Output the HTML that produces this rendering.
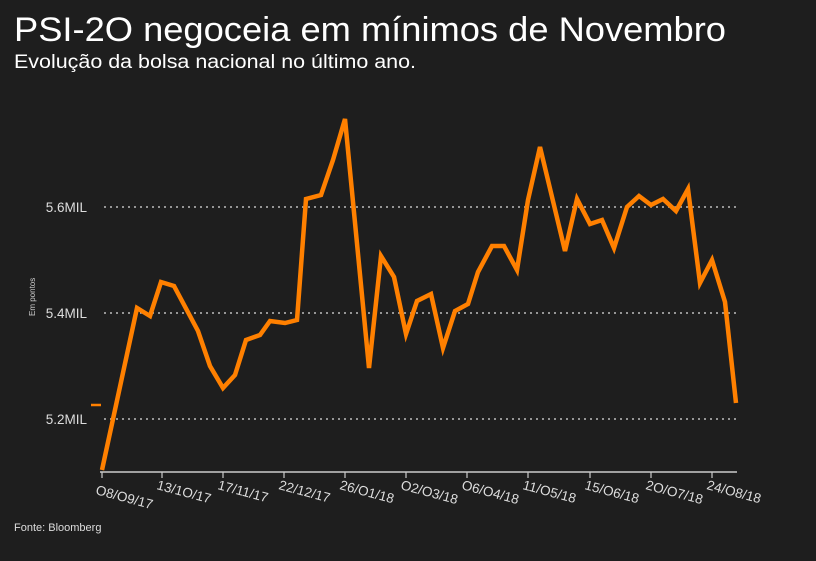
<!DOCTYPE html>
<html><head><meta charset="utf-8"><style>
html,body{margin:0;padding:0;background:#1e1e1e;}
svg{display:block;font-family:"Liberation Sans","DejaVu Sans",sans-serif;}
</style></head><body>
<svg width="816" height="561" viewBox="0 0 816 561" xmlns="http://www.w3.org/2000/svg">
<rect width="816" height="561" fill="#1e1e1e"/>
<text x="14" y="41" fill="#fff" font-size="34" textLength="712" lengthAdjust="spacingAndGlyphs">PSI-2O negoceia em mínimos de Novembro</text>
<text x="14" y="68" fill="#fff" font-size="19" textLength="402" lengthAdjust="spacingAndGlyphs">Evolução da bolsa nacional no último ano.</text>
<g stroke="#ddd" stroke-width="1.2" stroke-dasharray="2,4">
<line x1="104" y1="207" x2="737" y2="207"/>
<line x1="104" y1="313" x2="737" y2="313"/>
<line x1="104" y1="419" x2="737" y2="419"/>
</g>
<g fill="#ddd" font-size="13.5" text-anchor="end">
<text x="87" y="212">5.6MIL</text>
<text x="87" y="318">5.4MIL</text>
<text x="87" y="424">5.2MIL</text>
</g>
<text transform="translate(35,316) rotate(-90)" fill="#ccc" font-size="8">Em pontos</text>
<line x1="91" y1="405" x2="101" y2="405" stroke="#ff8000" stroke-width="2.5"/>
<line x1="100" y1="472" x2="737" y2="472" stroke="#ccc" stroke-width="1.5"/>
<g stroke="#ccc" stroke-width="1.2">
<line x1="102" y1="472" x2="102" y2="478"/><line x1="162" y1="472" x2="162" y2="478"/><line x1="223" y1="472" x2="223" y2="478"/><line x1="284" y1="472" x2="284" y2="478"/><line x1="345" y1="472" x2="345" y2="478"/><line x1="406" y1="472" x2="406" y2="478"/><line x1="467" y1="472" x2="467" y2="478"/><line x1="528" y1="472" x2="528" y2="478"/><line x1="590" y1="472" x2="590" y2="478"/><line x1="651" y1="472" x2="651" y2="478"/><line x1="712" y1="472" x2="712" y2="478"/>
</g>
<g fill="#ddd" font-size="13.5">
<text transform="translate(95,494) rotate(15)">O8/O9/17</text>
<text transform="translate(156,489) rotate(15)">13/1O/17</text>
<text transform="translate(217,489) rotate(15)">17/11/17</text>
<text transform="translate(278,489) rotate(15)">22/12/17</text>
<text transform="translate(339,489) rotate(15)">26/O1/18</text>
<text transform="translate(400,489) rotate(15)">O2/O3/18</text>
<text transform="translate(461,489) rotate(15)">O6/O4/18</text>
<text transform="translate(522,489) rotate(15)">11/O5/18</text>
<text transform="translate(584,489) rotate(15)">15/O6/18</text>
<text transform="translate(645,489) rotate(15)">2O/O7/18</text>
<text transform="translate(706,489) rotate(15)">24/O8/18</text>
</g>
<text x="14" y="531" fill="#ddd" font-size="11">Fonte: Bloomberg</text>
<polyline fill="none" stroke="#ff8000" stroke-width="4.5" stroke-linejoin="miter" stroke-miterlimit="4"
points="102,470 137,308 150,316 161,282 174,286 198,331 210,366 223,388 235,375 246,340 260,335 270,321 285,323 297,320 306,199 321,195 333,160 345,119 369,368 381,256 394,277 406,334 417,301 431,294 443,348 455,311 468,304 478,272 492,246 504,246 517,270 528,200 540,147 565,251 577,199 590,224 602,220 614,248 627,207 639,196 651,205 663,199 676,211 688,189 700,283 712,260 725,302 736,403"/>
</svg>
</body></html>
